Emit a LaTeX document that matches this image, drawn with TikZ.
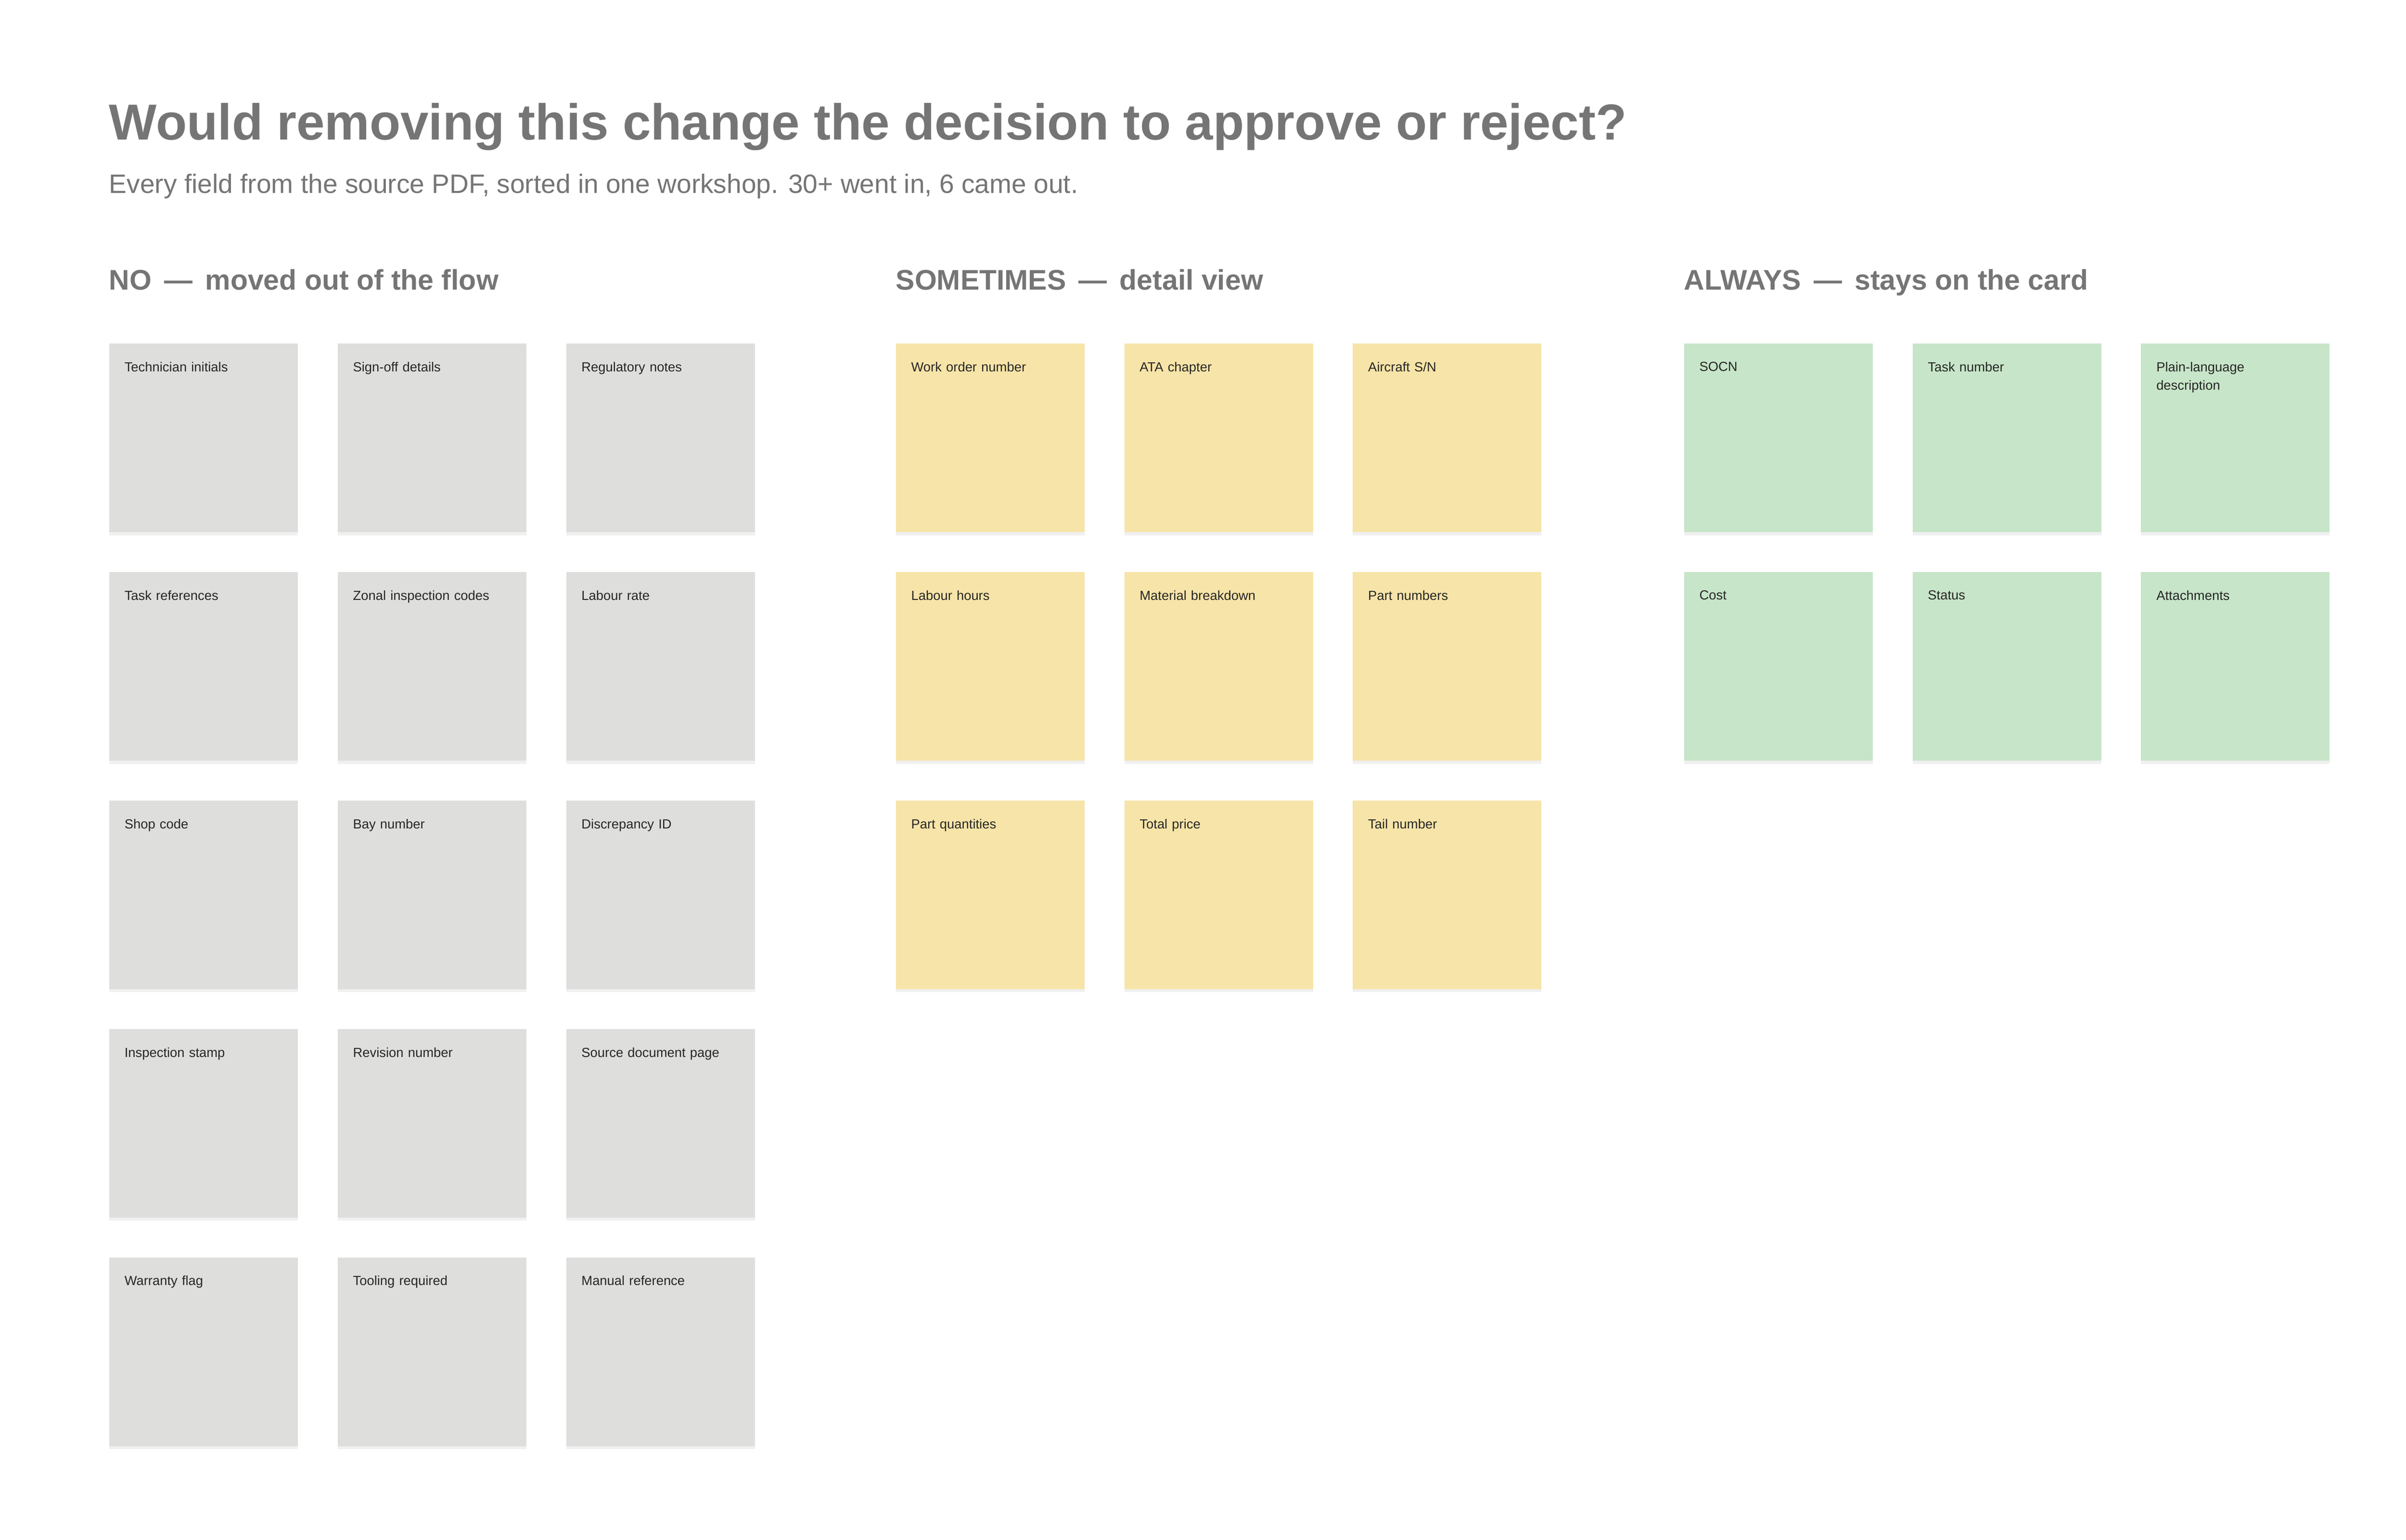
\documentclass[tikz,border=0pt]{standalone}
\usepackage{fontspec}
\setmainfont{Liberation Sans}
\usetikzlibrary{calc}
\usetikzlibrary{shadows}

\definecolor{inkgray}{HTML}{757575}
\definecolor{notecard}{HTML}{DEDEDD}
\definecolor{somecard}{HTML}{F7E4A8}
\definecolor{alwayscard}{HTML}{C7E5C8}

\begin{document}
\begin{tikzpicture}[x=1pt,y=-1pt]
  \useasboundingbox (0,0) rectangle (1569,1004.2);

  \tikzset{titlestyle/.style = {anchor=base west, inner sep=0, text=inkgray, font=\fontsize{33}{36}\selectfont\bfseries}}
  \tikzset{substyle/.style = {anchor=base west, inner sep=0, text=inkgray, font=\fontsize{17.3}{19}\selectfont}}
  \tikzset{headstyle/.style = {anchor=base west, inner sep=0, text=inkgray, font=\fontsize{18.5}{21}\selectfont\bfseries}}
  \tikzset{cardstyle/.style = {shape=rectangle, anchor=north west, minimum width=123pt, minimum height=123pt,
      inner sep=0, drop shadow={shadow xshift=0pt, shadow yshift=-2pt, opacity=0.12}}}
  \tikzset{labelstyle/.style = {anchor=north west, inner sep=0, text width=100pt, align=left,
      font=\fontsize{8.6}{12}\selectfont, text=black!85}}

  % Title
  \node [titlestyle] (Title) at (71,91) {Would removing this change the decision to approve or reject?};
  \node [substyle] (Subtitle) at (71,126) {Every field from the source PDF, sorted in one workshop. 30+ went in, 6 came out.};

  % Column heads
  \node [headstyle] (HeadNo) at (71,189) {NO \,---\, moved out of the flow};
  \node [headstyle] (HeadSome) at (584,189) {SOMETIMES \,---\, detail view};
  \node [headstyle] (HeadAlways) at (1098,189) {ALWAYS \,---\, stays on the card};

  % NO cards
  \foreach \txt [count=\i from 0] in {Technician initials, Sign-off details, Regulatory notes,
      Task references, Zonal inspection codes, Labour rate,
      Shop code, Bay number, Discrepancy ID,
      Inspection stamp, Revision number, Source document page,
      Warranty flag, Tooling required, Manual reference}
  {
    \pgfmathtruncatemacro{\col}{mod(\i,3)}
    \pgfmathtruncatemacro{\row}{div(\i,3)}
    \node [cardstyle, fill=notecard] (No\i) at (71+149*\col, 224+149*\row) {};
    \node [labelstyle] at ($(No\i.north west)+(10,12)$) {\txt};
  }

  % SOMETIMES cards
  \foreach \txt [count=\i from 0] in {Work order number, ATA chapter, Aircraft S/N,
      Labour hours, Material breakdown, Part numbers,
      Part quantities, Total price, Tail number}
  {
    \pgfmathtruncatemacro{\col}{mod(\i,3)}
    \pgfmathtruncatemacro{\row}{div(\i,3)}
    \node [cardstyle, fill=somecard] (Some\i) at (584+149*\col, 224+149*\row) {};
    \node [labelstyle] at ($(Some\i.north west)+(10,12)$) {\txt};
  }

  % ALWAYS cards
  \foreach \txt [count=\i from 0] in {SOCN, Task number, {Plain-language\\description},
      Cost, Status, Attachments}
  {
    \pgfmathtruncatemacro{\col}{mod(\i,3)}
    \pgfmathtruncatemacro{\row}{div(\i,3)}
    \node [cardstyle, fill=alwayscard] (Always\i) at (1098+149*\col, 224+149*\row) {};
    \node [labelstyle] at ($(Always\i.north west)+(10,12)$) {\txt};
  }

\end{tikzpicture}
\end{document}
